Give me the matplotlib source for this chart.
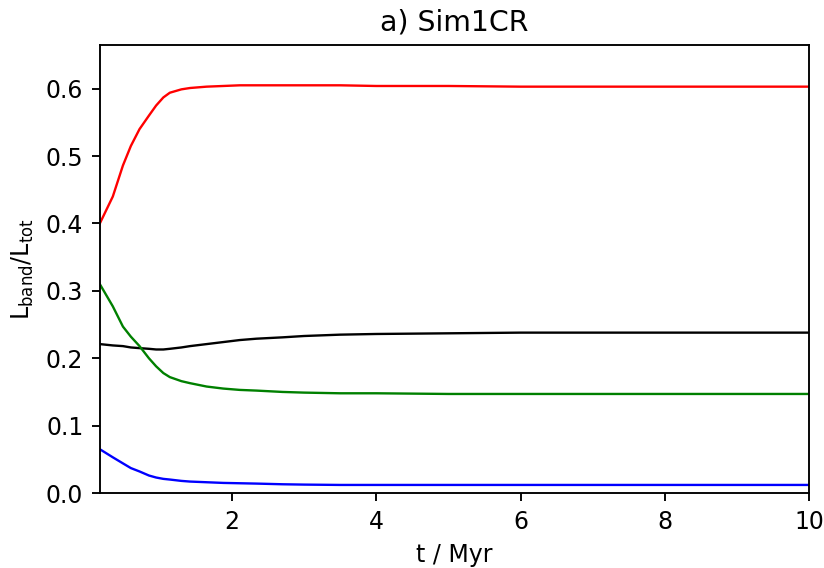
import numpy as np
import matplotlib.pyplot as plt

# time axis (Myr) and band luminosity fractions
t = [0.17, 0.35, 0.49, 0.6, 0.72, 0.85, 0.95, 1.05, 1.14, 1.3, 1.42, 1.65, 1.88, 2.11, 2.34, 2.7, 3.0, 3.5, 4.0, 5.0, 6.0, 7.0, 8.0, 9.0, 10.0]
red = [0.400, 0.440, 0.486, 0.515, 0.540, 0.560, 0.575, 0.587, 0.594, 0.599, 0.601, 0.603, 0.604, 0.605, 0.605, 0.605, 0.605, 0.605, 0.604, 0.604, 0.603, 0.603, 0.603, 0.603, 0.603]
green = [0.310, 0.277, 0.247, 0.232, 0.218, 0.200, 0.188, 0.178, 0.172, 0.166, 0.163, 0.158, 0.155, 0.153, 0.152, 0.150, 0.149, 0.148, 0.148, 0.147, 0.147, 0.147, 0.147, 0.147, 0.147]
black = [0.221, 0.219, 0.218, 0.216, 0.215, 0.214, 0.213, 0.213, 0.214, 0.216, 0.218, 0.221, 0.224, 0.227, 0.229, 0.231, 0.233, 0.235, 0.236, 0.237, 0.238, 0.238, 0.238, 0.238, 0.238]
blue = [0.065, 0.053, 0.044, 0.037, 0.032, 0.026, 0.023, 0.021, 0.020, 0.018, 0.017, 0.016, 0.015, 0.0145, 0.014, 0.013, 0.0125, 0.012, 0.012, 0.012, 0.012, 0.012, 0.012, 0.012, 0.012]

dpi = 170
fig = plt.figure(figsize=(825 / dpi, 568 / dpi), dpi=dpi)
ax = fig.add_axes([0.121, 0.132, 0.86, 0.789])

ax.plot(t, red, color='red', lw=1.0)
ax.plot(t, black, color='black', lw=1.0)
ax.plot(t, green, color='green', lw=1.0)
ax.plot(t, blue, color='blue', lw=1.0)

ax.set_xlim(0.17, 10)
ax.set_ylim(0, 0.665)
ax.set_xticks([2, 4, 6, 8, 10])
ax.set_yticks([0.0, 0.1, 0.2, 0.3, 0.4, 0.5, 0.6])
ax.set_xlabel('t / Myr')
ax.set_ylabel(r'L$_\mathregular{band}$/L$_\mathregular{tot}$')
ax.set_title('a) Sim1CR')

fig.savefig('out.png', dpi=dpi)
